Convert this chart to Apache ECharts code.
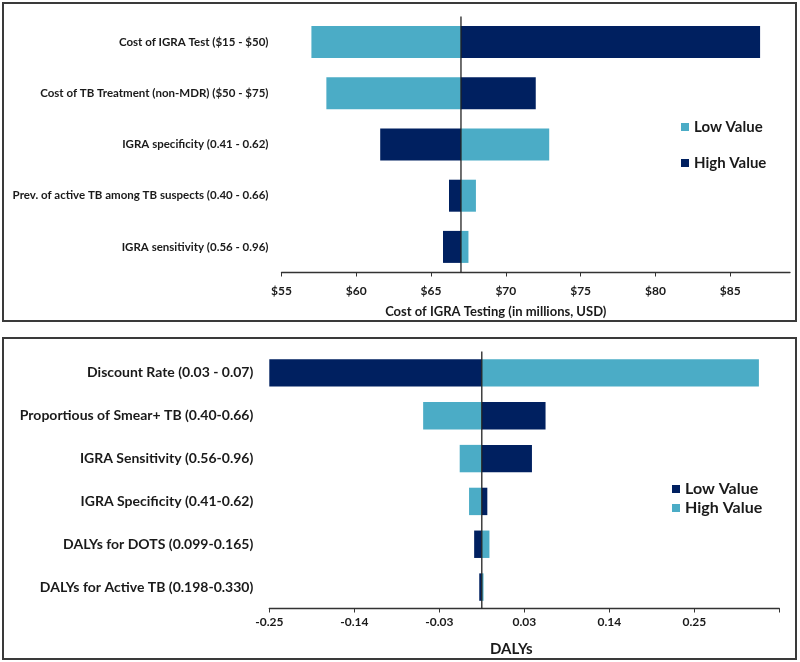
<!DOCTYPE html>
<html><head><meta charset="utf-8">
<script src="https://cdn.jsdelivr.net/npm/echarts@6/dist/echarts.min.js"></script>
<style>html,body{margin:0;padding:0;background:#fff}#c{width:800px;height:662px}</style>
</head><body><div id="c"></div>
<script>
// ---- Top panel data ----
const topCategories = ['Cost of IGRA Test ($15 - $50)', 'Cost of TB Treatment (non-MDR) ($50 - $75)', 'IGRA specificity (0.41 - 0.62)', 'Prev. of active TB among TB suspects (0.40 - 0.66)', 'IGRA sensitivity (0.56 - 0.96)'];
const topBase = 67;
const topLowValues = [57.0, 58.0, 72.9, 68.0, 67.5];
const topHighValues = [87.0, 72.0, 61.6, 66.2, 65.8];
const topTickValues = [55, 60, 65, 70, 75, 80, 85];
const topTickLabels = ['$55', '$60', '$65', '$70', '$75', '$80', '$85'];

// ---- Bottom panel data ----
const bottomCategories = ['Discount Rate (0.03 - 0.07)', 'Proportious of Smear+ TB (0.40-0.66)', 'IGRA Sensitivity (0.56-0.96)', 'IGRA Specificity (0.41-0.62)', 'DALYs for DOTS (0.099-0.165)', 'DALYs for Active TB (0.198-0.330)'];
const bottomBase = 0;
const bottomLowValues = [-0.250, 0.075, 0.059, 0.0065, -0.009, -0.003];
const bottomHighValues = [0.326, -0.069, -0.026, -0.015, 0.009, 0.002];
const bottomTickValues = [-0.25, -0.15, -0.05, 0.05, 0.15, 0.25];
const bottomTickLabels = ['-0.25', '-0.14', '-0.03', '0.03', '0.14', '0.25'];

const LIGHT = '#4BACC6';
const DARK = '#002060';
const FONT = 'Lato, "Open Sans", sans-serif';
const TXT = '#1a1a1a';

function labelFor(values, labels) {
  return function (v) {
    for (let i = 0; i < values.length; i++) if (Math.abs(values[i] - v) < 1e-9) return labels[i];
    return '';
  };
}
function barRender(base, color, ratio) {
  return function (params, api) {
    const v = api.value(0), c = api.value(1);
    const p0 = api.coord([base, c]), p1 = api.coord([v, c]);
    const h = api.size([0, 1])[1] * ratio;
    return { type: 'rect', shape: { x: Math.min(p0[0], p1[0]), y: p0[1] - h / 2, width: Math.abs(p1[0] - p0[0]), height: h }, style: { fill: color } };
  };
}
function baseLine(base) {
  return function (params, api) {
    const cs = params.coordSys;
    const x = api.coord([base, 0])[0];
    return { type: 'line', shape: { x1: x, y1: cs.y, x2: x, y2: cs.y + cs.height }, style: { stroke: '#222', lineWidth: 1.3 } };
  };
}

const chart = echarts.init(document.getElementById('c'));
chart.setOption({
  animation: false,
  backgroundColor: '#fff',
  textStyle: { fontFamily: FONT },
  graphic: [
    { type: 'rect', shape: { x: 3, y: 3, width: 793, height: 318 }, style: { fill: null, stroke: '#3a3a3a', lineWidth: 2 } },
    { type: 'rect', shape: { x: 3, y: 338, width: 793, height: 321 }, style: { fill: null, stroke: '#3a3a3a', lineWidth: 2 } }
  ],
  grid: [
    { left: 281.5, width: 508.5, top: 16.5, height: 256, outerBoundsMode: 'none', containLabel: false },
    { left: 269.3, width: 510, top: 351.5, height: 257, outerBoundsMode: 'none', containLabel: false }
  ],
  legend: [
    { orient: 'vertical', left: 676, top: 113, icon: 'rect', itemWidth: 8, itemHeight: 8, itemGap: 18, selectedMode: false,
      textStyle: { fontFamily: FONT, fontSize: 15, fontWeight: 'bold', lineHeight: 18, color: TXT },
      data: [{ name: 'Low Value', itemStyle: { color: LIGHT } }, { name: 'High Value', itemStyle: { color: DARK } }] },
    { orient: 'vertical', left: 667, top: 475, icon: 'rect', itemWidth: 8, itemHeight: 8, itemGap: 1, selectedMode: false,
      textStyle: { fontFamily: FONT, fontSize: 16, fontWeight: 'bold', lineHeight: 18, color: TXT },
      data: [{ name: 'Low Value', itemStyle: { color: DARK } }, { name: 'High Value', itemStyle: { color: LIGHT } }] }
  ],
  xAxis: [
    { gridIndex: 0, type: 'value', min: 55, max: 89,
      name: 'Cost of IGRA Testing (in millions, USD)', nameLocation: 'middle', nameGap: 33,
      nameTextStyle: { fontFamily: FONT, fontSize: 13, fontWeight: 'bold', color: TXT, padding: [0, 80, 0, 0] },
      axisLine: { show: true, lineStyle: { color: '#333', width: 1.3 } },
      axisTick: { show: true, length: 4, customValues: topTickValues, lineStyle: { color: '#333' } },
      axisLabel: { customValues: topTickValues, formatter: labelFor(topTickValues, topTickLabels), fontFamily: FONT, fontSize: 12, fontWeight: 'bold', color: TXT, margin: 13 },
      splitLine: { show: false } },
    { gridIndex: 1, type: 'value', min: -0.25, max: 0.35,
      name: 'DALYs', nameLocation: 'middle', nameGap: 33,
      nameTextStyle: { fontFamily: FONT, fontSize: 15, fontWeight: 'bold', color: TXT, padding: [0, 26, 0, 0] },
      axisLine: { show: true, lineStyle: { color: '#333', width: 1.3 } },
      axisTick: { show: true, length: 4, customValues: bottomTickValues.concat([0.35]), lineStyle: { color: '#333' } },
      axisLabel: { customValues: bottomTickValues, formatter: labelFor(bottomTickValues, bottomTickLabels), fontFamily: FONT, fontSize: 12, fontWeight: 'bold', color: TXT, margin: 8 },
      splitLine: { show: false } }
  ],
  yAxis: [
    { gridIndex: 0, type: 'category', data: topCategories, inverse: true,
      axisLine: { show: false }, axisTick: { show: false },
      axisLabel: { fontFamily: FONT, fontSize: 11.5, fontWeight: 'bold', color: TXT, margin: 13 } },
    { gridIndex: 1, type: 'category', data: bottomCategories, inverse: true,
      axisLine: { show: false }, axisTick: { show: false },
      axisLabel: { fontFamily: FONT, fontSize: 14, fontWeight: 'bold', color: TXT, margin: 16 } }
  ],
  series: [
    { name: 'Low Value', type: 'custom', xAxisIndex: 0, yAxisIndex: 0, itemStyle: { color: LIGHT },
      encode: { x: 0, y: 1 }, data: topLowValues.map((v, i) => [v, i]), renderItem: barRender(topBase, LIGHT, 0.625) },
    { name: 'High Value', type: 'custom', xAxisIndex: 0, yAxisIndex: 0, itemStyle: { color: DARK },
      encode: { x: 0, y: 1 }, data: topHighValues.map((v, i) => [v, i]), renderItem: barRender(topBase, DARK, 0.625) },
    { name: 'base0', type: 'custom', xAxisIndex: 0, yAxisIndex: 0, z: 5, silent: true,
      encode: { x: 0, y: 1 }, data: [[topBase, 0]], renderItem: baseLine(topBase) },
    { name: 'Low Value', type: 'custom', xAxisIndex: 1, yAxisIndex: 1, itemStyle: { color: DARK },
      encode: { x: 0, y: 1 }, data: bottomLowValues.map((v, i) => [v, i]), renderItem: barRender(bottomBase, DARK, 0.64) },
    { name: 'High Value', type: 'custom', xAxisIndex: 1, yAxisIndex: 1, itemStyle: { color: LIGHT },
      encode: { x: 0, y: 1 }, data: bottomHighValues.map((v, i) => [v, i]), renderItem: barRender(bottomBase, LIGHT, 0.64) },
    { name: 'base1', type: 'custom', xAxisIndex: 1, yAxisIndex: 1, z: 5, silent: true,
      encode: { x: 0, y: 1 }, data: [[bottomBase, 0]], renderItem: baseLine(bottomBase) }
  ]
});
</script></body></html>
